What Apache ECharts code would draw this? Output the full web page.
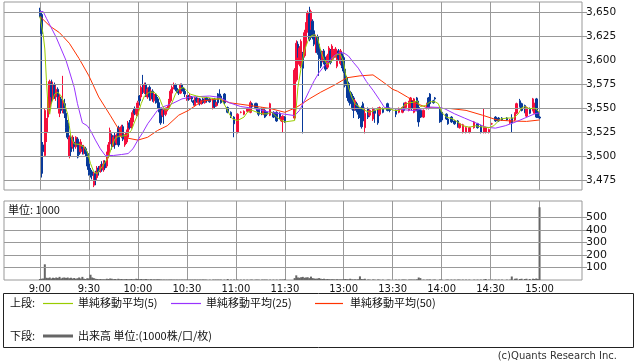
<!DOCTYPE html>
<html><head><meta charset="utf-8">
<script src="https://cdn.jsdelivr.net/npm/echarts@6/dist/echarts.min.js"></script>
<style>html,body{margin:0;padding:0;background:#fff}#c{width:638px;height:362px}</style>
</head><body><div id="c"></div>
<script>
// ---- data (time, open, close, low, high, volume[1000]) ----
const amCandles = [
['9:00',3652,3648,3645,3655,8],['9:01',3648,3628,3478,3650,10],['9:02',3512,3505,3482,3515,12],['9:03',3501,3548,3500,3550,125],
['9:04',3525,3537,3515,3540,18],['9:05',3541,3560,3535,3562,15],['9:06',3551,3578,3545,3580,20],['9:07',3576,3562,3555,3580,12],
['9:08',3560,3575,3558,3578,18],['9:09',3575,3562,3560,3577,15],['9:10',3562,3570,3558,3574,20],['9:11',3570,3558,3550,3572,16],
['9:12',3545,3562,3541,3565,25],['9:13',3560,3548,3545,3562,12],['9:14',3548,3558,3545,3584,18],['9:15',3555,3545,3540,3560,20],
['9:16',3545,3530,3525,3550,16],['9:17',3535,3520,3518,3538,20],['9:18',3500,3520,3498,3522,14],['9:19',3520,3505,3500,3522,18],
['9:20',3510,3520,3508,3522,12],['9:21',3515,3510,3505,3520,16],['9:22',3510,3520,3508,3521,10],['9:23',3518,3512,3498,3520,14],
['9:24',3512,3502,3499,3516,20],['9:25',3505,3515,3503,3518,12],['9:26',3510,3508,3502,3512,25],['9:27',3503,3510,3502,3512,10],
['9:28',3508,3503,3500,3510,8],['9:29',3503,3490,3486,3505,14],['9:30',3492,3483,3480,3495,12],['9:31',3485,3481,3478,3488,42],
['9:32',3484,3480,3476,3486,20],['9:33',3470,3482,3468,3484,15],['9:34',3482,3476,3470,3485,10],['9:35',3478,3486,3476,3490,8],
['9:36',3488,3484,3480,3490,6],['9:37',3485,3490,3483,3492,8],['9:38',3492,3486,3484,3495,5],['9:39',3486,3492,3484,3496,6],
['9:40',3494,3488,3486,3496,5],['9:41',3490,3502,3488,3505,10],['9:42',3500,3512,3498,3515,8],['9:43',3513,3527,3511,3530,12],
['9:44',3522,3510,3507,3524,10],['9:45',3512,3520,3510,3522,6],['9:46',3522,3512,3508,3525,8],['9:47',3514,3522,3512,3524,5],
['9:48',3530,3512,3510,3532,10],['9:49',3522,3528,3520,3530,6],['9:50',3521,3531,3519,3533,8],['9:51',3531,3518,3516,3533,5],
['9:52',3512,3520,3510,3522,6],['9:53',3515,3525,3513,3528,8],['9:54',3520,3532,3518,3537,5],['9:55',3535,3530,3528,3538,6],
['9:56',3531,3540,3529,3546,8],['9:57',3536,3546,3534,3548,5],['9:58',3550,3545,3543,3552,6],['9:59',3544,3550,3542,3556,10],
['10:00',3544,3556,3542,3558,8],['10:01',3563,3558,3553,3564,6],['10:02',3562,3572,3560,3574,8],['10:03',3572,3567,3565,3585,5],
['10:04',3567,3575,3565,3577,6],['10:05',3575,3565,3562,3577,8],['10:06',3562,3570,3560,3572,5],['10:07',3572,3562,3558,3574,4],
['10:08',3560,3568,3558,3570,6],['10:09',3568,3560,3557,3570,4],['10:10',3558,3565,3556,3567,5],['10:11',3565,3558,3555,3566,4],
['10:12',3560,3556,3550,3562,6],['10:13',3556,3549,3546,3557,5],['10:14',3550,3535,3533,3551,4],['10:15',3543,3548,3541,3550,3],
['10:16',3548,3544,3534,3549,3],['10:17',3544,3550,3542,3551,3],['10:18',3549,3551,3547,3553,3],['10:19',3551,3558,3550,3560,3],
['10:20',3558,3568,3556,3570,4],['10:21',3566,3572,3564,3574,3],['10:22',3572,3575,3570,3577,3],['10:23',3575,3570,3568,3576,3],
['10:24',3571,3569,3567,3572,3],['10:25',3569,3566,3564,3570,3],['10:26',3566,3575,3565,3576,3],['10:27',3575,3570,3568,3576,3],
['10:28',3571,3568,3565,3572,3],['10:29',3568,3565,3562,3569,3],['10:30',3560,3562,3558,3564,3],['10:31',3563,3560,3558,3564,3],
['10:32',3560,3563,3559,3565,3],['10:33',3562,3560,3557,3563,3],['10:34',3558,3556,3553,3559,3],['10:35',3553,3561,3552,3562,3],
['10:36',3561,3558,3556,3562,3],['10:37',3556,3560,3554,3561,3],['10:38',3560,3555,3553,3561,3],['10:39',3555,3558,3554,3559,3],
['10:40',3560,3556,3555,3561,4],['10:41',3556,3560,3555,3561,3],['10:42',3561,3558,3556,3562,3],['10:44',3560,3557,3556,3561,3],
['10:46',3550,3560,3549,3561,3],['10:47',3560,3552,3550,3561,3],['10:48',3553,3556,3552,3557,3],['10:49',3565,3556,3554,3566,3],
['10:50',3565,3562,3560,3570,3],['10:51',3563,3556,3555,3565,3],['10:53',3565,3556,3554,3566,3],['10:55',3551,3546,3545,3552,8],
['10:57',3546,3542,3540,3547,3],['10:59',3541,3534,3520,3542,4],['11:01',3525,3544,3524,3545,4],['11:03',3546,3546,3545,3547,3],
['11:05',3544,3547,3543,3548,3],['11:07',3547,3550,3546,3551,3],['11:09',3546,3556,3545,3558,3],['11:10',3555,3552,3550,3556,3],
['11:12',3555,3551,3550,3556,3],['11:13',3555,3548,3547,3556,3],['11:14',3550,3544,3542,3551,3],['11:16',3550,3545,3543,3551,3],
['11:17',3544,3549,3543,3550,3],['11:18',3548,3541,3540,3549,3],['11:19',3546,3544,3542,3547,3],['11:21',3543,3555,3542,3556,3],
['11:23',3546,3541,3540,3547,3],['11:25',3546,3537,3536,3547,3],['11:27',3545,3540,3539,3546,3],['11:28',3537,3541,3536,3542,3],
['11:29',3538,3542,3525,3543,3],['11:30',3541,3536,3535,3542,6]
];
const pmCandles = [
['12:30',3540,3590,3538,3592,15],['12:31',3580,3618,3578,3621,37],['12:32',3617,3605,3603,3620,20],['12:33',3596,3613,3594,3615,18],
['12:34',3594,3620,3592,3622,22],['12:35',3607,3592,3524,3609,25],['12:36',3605,3629,3603,3632,18],['12:37',3617,3638,3615,3640,20],
['12:38',3631,3650,3629,3652,22],['12:39',3648,3622,3620,3656,15],['12:40',3634,3651,3632,3653,27],['12:41',3641,3624,3622,3643,15],
['12:42',3631,3617,3615,3633,12],['12:43',3610,3625,3608,3627,10],['12:44',3625,3608,3606,3627,12],['12:45',3617,3602,3584,3619,15],
['12:46',3610,3594,3592,3612,10],['12:47',3600,3608,3598,3610,8],['12:48',3610,3598,3596,3612,10],['12:49',3602,3591,3589,3604,6],
['12:50',3593,3605,3591,3607,8],['12:51',3600,3613,3598,3615,6],['12:52',3610,3598,3596,3612,5],['12:53',3602,3615,3600,3617,6],
['12:54',3603,3610,3601,3612,5],['12:55',3605,3612,3603,3614,4],['12:56',3594,3610,3592,3612,6],['12:57',3610,3602,3600,3612,4],
['12:58',3597,3610,3595,3612,5],['12:59',3607,3594,3592,3609,4],['13:00',3603,3589,3587,3605,6],['13:01',3591,3574,3572,3593,8],
['13:02',3582,3563,3561,3584,6],['13:03',3576,3558,3556,3578,5],['13:04',3568,3555,3553,3570,10],['13:05',3565,3551,3549,3567,5],
['13:06',3561,3548,3540,3563,4],['13:07',3550,3558,3548,3560,5],['13:08',3555,3548,3546,3557,4],['13:09',3551,3544,3539,3553,6],
['13:10',3548,3545,3540,3550,29],['13:11',3551,3531,3529,3553,8],['13:12',3555,3537,3531,3557,6],['13:13',3530,3545,3524,3551,10],
['13:15',3550,3541,3539,3551,4],['13:16',3543,3548,3541,3549,3],['13:18',3539,3550,3537,3551,4],['13:19',3548,3545,3535,3549,3],
['13:21',3550,3535,3533,3551,4],['13:22',3544,3551,3542,3552,3],['13:24',3550,3546,3545,3551,3],['13:27',3555,3548,3547,3556,3],
['13:28',3550,3548,3546,3551,3],['13:32',3548,3544,3541,3549,3],['13:34',3546,3550,3545,3551,3],['13:36',3546,3551,3545,3552,4],
['13:37',3555,3548,3547,3556,3],['13:38',3551,3556,3550,3557,3],['13:40',3548,3556,3547,3558,3],['13:41',3551,3561,3549,3562,4],
['13:42',3558,3550,3548,3559,3],['13:43',3546,3560,3545,3561,3],['13:44',3548,3556,3547,3557,3],['13:45',3561,3548,3547,3562,5],
['13:46',3551,3536,3531,3558,20],['13:47',3548,3541,3540,3549,15],['13:49',3541,3548,3540,3549,3],['13:51',3550,3555,3549,3556,3],
['13:52',3561,3550,3549,3562,3],['13:53',3565,3555,3553,3566,4],['13:55',3558,3556,3555,3559,3],['13:56',3561,3560,3559,3562,3],
['13:59',3550,3536,3535,3551,4],['14:00',3546,3538,3536,3547,3],['14:03',3544,3539,3538,3545,3],['14:04',3539,3534,3533,3540,3],
['14:06',3541,3536,3535,3542,3],['14:08',3537,3534,3533,3538,3],['14:10',3537,3531,3530,3538,3],['14:11',3530,3534,3529,3535,3],
['14:13',3525,3533,3524,3534,3],['14:15',3525,3530,3524,3531,3],['14:17',3525,3530,3524,3531,3],['14:20',3530,3536,3529,3537,3],
['14:22',3534,3530,3529,3535,3],['14:24',3532,3525,3524,3533,3],['14:26',3525,3530,3524,3550,4],['14:27',3525,3530,3524,3531,8],
['14:29',3525,3528,3524,3529,3],['14:31',3534,3534,3533,3535,3],['14:33',3541,3537,3536,3542,3],['14:35',3540,3537,3536,3541,3],
['14:37',3540,3538,3537,3541,3],['14:40',3540,3538,3537,3541,3],['14:42',3535,3538,3534,3539,3],['14:43',3540,3535,3525,3544,28],
['14:45',3538,3545,3537,3546,10],['14:46',3545,3555,3544,3556,12],['14:48',3558,3552,3551,3560,8],['14:49',3555,3548,3547,3556,10],
['14:51',3553,3546,3545,3554,8],['14:52',3542,3551,3541,3552,10],['14:54',3550,3545,3544,3551,8],['14:56',3548,3560,3547,3561,10],
['14:57',3545,3555,3544,3556,8],['14:58',3560,3541,3540,3561,12],['14:59',3546,3541,3540,3547,8],['15:00',3541,3540,3539,3542,580]
];
// moving averages (time, value)
const ma5 = [
['9:00',3646],['9:02',3627],['9:03',3612],['9:04',3579],['9:05',3551],['9:06',3544],['9:07',3555],['9:09',3565],['9:11',3567],['9:13',3563],
['9:15',3555],['9:17',3544],['9:18',3532],['9:19',3520],['9:21',3513],['9:24',3512.6],['9:27',3510],['9:29',3504.6],['9:31',3492.6],['9:33',3484],
['9:35',3482],['9:38',3489],['9:42',3499.4],['9:44',3510],['9:46',3518.5],['9:48',3521],['9:50',3521],['9:53',3522],['9:56',3527],['9:58',3536],
['10:00',3544],['10:02',3555],['10:04',3563],['10:07',3567],['10:10',3567],['10:13',3561.6],['10:15',3553],['10:17',3548],['10:19',3549.6],['10:21',3556.5],
['10:23',3565],['10:25',3570],['10:28',3572],['10:30',3568.5],['10:32',3565],['10:36',3563],['10:40',3561.6],['10:42',3561.6],['10:47',3560],['10:51',3560],
['10:54',3551],['10:56',3544.4],['10:58',3539],['11:01',3537.4],['11:05',3541],['11:07',3546],['11:10',3548],['11:13',3546],['11:16',3544.4],['11:19',3544.4],
['11:22',3546],['11:25',3541],['11:28',3537.4],['11:30',3536],
['12:30',3537.4],['12:31',3551],['12:32',3572],['12:34',3592.6],['12:36',3610],['12:38',3620],['12:40',3625.5],['12:42',3627],['12:44',3623.7],['12:46',3610],
['12:48',3601],['12:50',3596],['12:52',3598],['12:54',3603],['12:56',3606.5],['12:58',3606.5],['13:00',3598],['13:01',3587.5],['13:03',3572],['13:05',3561.6],
['13:07',3554.7],['13:10',3551],['13:13',3548],['13:16',3546],['13:19',3548],['13:22',3549.6],['13:28',3549.6],['13:31',3548],['13:34',3548],['13:37',3553],
['13:40',3556],['13:43',3556.5],['13:45',3558],['13:47',3552],['13:50',3553],['13:53',3557],['13:56',3557],['13:58',3555],['14:00',3546],['14:03',3541],
['14:07',3539],['14:10',3535.7],['14:13',3532],['14:17',3530.5],['14:21',3532],['14:24',3531],['14:29',3530],['14:32',3532],['14:36',3539],['14:40',3540],
['14:44',3540],['14:47',3544.4],['14:49',3550.6],['14:51',3552],['14:54',3549.6],['14:57',3550.6],['15:00',3546]
];
const ma25 = [
['9:00',3651],['9:02',3651],['9:04',3644],['9:07',3634],['9:10',3624],['9:13',3612],['9:16',3600],['9:18',3589],['9:21',3572],['9:23',3555],
['9:26',3535],['9:29',3532],['9:31',3527],['9:34',3517],['9:37',3508],['9:40',3501],['9:45',3501],['9:50',3502],['9:54',3503],['9:57',3508],
['10:00',3517],['10:03',3525],['10:06',3534],['10:09',3541],['10:12',3548],['10:15',3551.5],['10:21',3555],['10:27',3560],['10:33',3562],['10:44',3563],
['10:50',3561.6],['10:56',3556],['11:03',3552],['11:09',3550.6],['11:15',3548.5],['11:21',3546],['11:30',3544],
['12:30',3542.6],['12:33',3548],['12:36',3558],['12:39',3568.6],['12:42',3579],['12:45',3587.5],['12:48',3594],['12:51',3599.6],['12:54',3604.7],['12:57',3608],
['13:00',3608],['13:03',3604.7],['13:06',3598],['13:09',3592],['13:14',3578],['13:18',3569],['13:22',3559],['13:25',3551],['13:32',3549.6],['13:41',3548],
['13:44',3548],['13:53',3551.5],['13:59',3551],['14:02',3549.6],['14:08',3544.4],['14:14',3540],['14:20',3535.7],['14:27',3530.5],['14:33',3529.5],['14:39',3532],
['14:45',3535.7],['14:51',3540],['14:57',3544.4],['15:00',3545.5]
];
const ma50 = [
['9:00',3646],['9:06',3636],['9:12',3629],['9:18',3618],['9:24',3602],['9:30',3584],['9:36',3562],['9:43',3543],['9:48',3529],['9:54',3519],
['10:00',3517],['10:06',3520],['10:12',3527],['10:18',3532],['10:25',3543],['10:31',3548],['10:37',3555],['10:40',3558],['10:50',3560],['10:56',3556],
['11:09',3553],['11:21',3550],['11:30',3546],
['12:31',3551],['12:39',3560],['12:46',3567],['12:54',3574],['13:02',3582],['13:10',3584],['13:18',3585],['13:23',3579],['13:27',3574],['13:30',3570],
['13:33',3568],['13:39',3562],['13:45',3555],['13:51',3551],['13:59',3550],['14:05',3550],['14:15',3548],['14:25',3543],['14:34',3538],['14:42',3537],
['14:52',3536.5],['15:00',3538]
];
const tickLabels = ['9:00','9:30','10:00','10:30','11:00','11:30','13:00','13:30','14:00','14:30','15:00'];
const priceTicks = [3475,3500,3525,3550,3575,3600,3625,3650];
const volumeTicks = [100,200,300,400,500];

// ---- axis scaffolding: one category per minute, lunch break compressed ----
function minuteRange(h1, m1, h2, m2) {
  const out = [];
  for (let t = h1 * 60 + m1; t <= h2 * 60 + m2; t++) out.push(Math.floor(t / 60) + ':' + String(t % 60).padStart(2, '0'));
  return out;
}
const pad = (n, p) => Array.from({length: n}, (_, i) => p + i);
const categories = [...pad(22, 'pre'), ...minuteRange(9, 0, 11, 30), ...pad(5, 'lunch'), ...minuteRange(12, 30, 15, 0), ...pad(26, 'post')];
const idx = {};
categories.forEach((c, i) => { idx[c] = i; });

const allCandles = amCandles.concat(pmCandles);
const candleData = allCandles.map(r => [idx[r[0]], r[1], r[2], r[3], r[4]]);
const volumeData = allCandles.map(r => [idx[r[0]], r[5]]);
const toLine = arr => arr.map(r => [idx[r[0]], r[1]]);

const GRID = '#999';
const FONT = 'DejaVu Sans';
const JP = '"Noto Sans CJK JP", sans-serif';
const UP = '#f5103c', DOWN = '#08399a';

const xAxisBase = {
  type: 'category', data: categories, boundaryGap: false,
  axisLine: {show: false}, axisTick: {show: false},
  splitLine: {show: true, interval: (i, v) => tickLabels.indexOf(v) >= 0, lineStyle: {color: GRID, width: 1}}
};
const gridLines = (ticks, xi, yi) => ({
  type: 'line', xAxisIndex: xi, yAxisIndex: yi, data: [], z: 1, silent: true,
  markLine: {silent: true, symbol: 'none', animation: false, label: {show: false},
    lineStyle: {color: GRID, type: 'solid', width: 1}, data: ticks.map(v => ({yAxis: v}))}
});

const chart = echarts.init(document.getElementById('c'));
chart.setOption({
  animation: false,
  grid: [
    {left: 4, top: 2, width: 578, height: 188, show: true, borderColor: GRID, borderWidth: 1},
    {left: 4, top: 201, width: 578, height: 79, show: true, borderColor: GRID, borderWidth: 1}
  ],
  xAxis: [
    Object.assign({}, xAxisBase, {gridIndex: 0, axisLabel: {show: false}}),
    Object.assign({}, xAxisBase, {gridIndex: 1, axisLabel: {show: true, interval: (i, v) => tickLabels.indexOf(v) >= 0,
      color: '#111', fontSize: 10, fontFamily: FONT, margin: 4}})
  ],
  yAxis: [
    {type: 'value', gridIndex: 0, position: 'right', min: 3465, max: 3661, scale: true,
      axisLine: {show: false}, splitLine: {show: false},
      axisTick: {show: true, customValues: priceTicks, length: 5, lineStyle: {color: GRID}},
      axisLabel: {customValues: priceTicks, formatter: v => v.toLocaleString('en-US'), color: '#111', fontSize: 10.5, fontFamily: FONT, margin: 4}},
    {type: 'value', gridIndex: 1, position: 'right', min: 0, max: 630,
      axisLine: {show: false}, splitLine: {show: false},
      axisTick: {show: true, customValues: volumeTicks, length: 5, lineStyle: {color: GRID}},
      axisLabel: {customValues: volumeTicks, color: '#111', fontSize: 11, fontFamily: FONT, margin: 4}}
  ],
  series: [
    gridLines(priceTicks, 0, 0),
    {type: 'candlestick', xAxisIndex: 0, yAxisIndex: 0, z: 3, data: candleData, encode: {x: 0, y: [1, 2, 3, 4]},
      barWidth: 2,
      itemStyle: {color: UP, color0: DOWN, borderColor: UP, borderColor0: DOWN, borderWidth: 1}},
    {type: 'line', name: 'ma50', xAxisIndex: 0, yAxisIndex: 0, z: 4, data: toLine(ma50), showSymbol: false, symbol: 'none',
      lineStyle: {color: '#ff3300', width: 1}},
    {type: 'line', name: 'ma25', xAxisIndex: 0, yAxisIndex: 0, z: 4, data: toLine(ma25), showSymbol: false, symbol: 'none',
      lineStyle: {color: '#9933ff', width: 1}},
    {type: 'line', name: 'ma5', xAxisIndex: 0, yAxisIndex: 0, z: 5, data: toLine(ma5), showSymbol: false, symbol: 'none',
      lineStyle: {color: '#99cc00', width: 1}},
    gridLines(volumeTicks, 1, 1),
    {type: 'bar', xAxisIndex: 1, yAxisIndex: 1, z: 3, data: volumeData, encode: {x: 0, y: 1}, barWidth: 2,
      itemStyle: {color: '#666'}}
  ],
  graphic: [
    {type: 'text', x: 8, y: 210, style: {text: '単位: 1000', font: '11px ' + JP, fill: '#111', verticalAlign: 'middle'}},
    {type: 'rect', shape: {x: 3.5, y: 293.5, width: 630, height: 54}, style: {fill: '#fff', stroke: '#222', lineWidth: 1}},
    {type: 'text', x: 10, y: 303, style: {text: '上段:', font: '11px ' + JP, fill: '#111', verticalAlign: 'middle'}},
    {type: 'line', shape: {x1: 43, y1: 303.5, x2: 73, y2: 303.5}, style: {stroke: '#99cc00', lineWidth: 1.2}},
    {type: 'text', x: 78, y: 303, style: {text: '単純移動平均(5)', font: '11px ' + JP, fill: '#111', verticalAlign: 'middle'}},
    {type: 'line', shape: {x1: 171, y1: 303.5, x2: 201, y2: 303.5}, style: {stroke: '#9933ff', lineWidth: 1.2}},
    {type: 'text', x: 206, y: 303, style: {text: '単純移動平均(25)', font: '11px ' + JP, fill: '#111', verticalAlign: 'middle'}},
    {type: 'line', shape: {x1: 315, y1: 303.5, x2: 343, y2: 303.5}, style: {stroke: '#ff3300', lineWidth: 1.2}},
    {type: 'text', x: 350, y: 303, style: {text: '単純移動平均(50)', font: '11px ' + JP, fill: '#111', verticalAlign: 'middle'}},
    {type: 'text', x: 10, y: 336, style: {text: '下段:', font: '11px ' + JP, fill: '#111', verticalAlign: 'middle'}},
    {type: 'line', shape: {x1: 43, y1: 336, x2: 73, y2: 336}, style: {stroke: '#666', lineWidth: 3}},
    {type: 'text', x: 78, y: 336, style: {text: '出来高 単位:(1000株/口/枚)', font: '11px ' + JP, fill: '#111', verticalAlign: 'middle'}},
    {type: 'text', x: 617, y: 356, style: {text: '(c)Quants Research Inc.', font: '10px ' + FONT, fill: '#333', align: 'right', verticalAlign: 'middle'}}
  ]
});
</script></body></html>
